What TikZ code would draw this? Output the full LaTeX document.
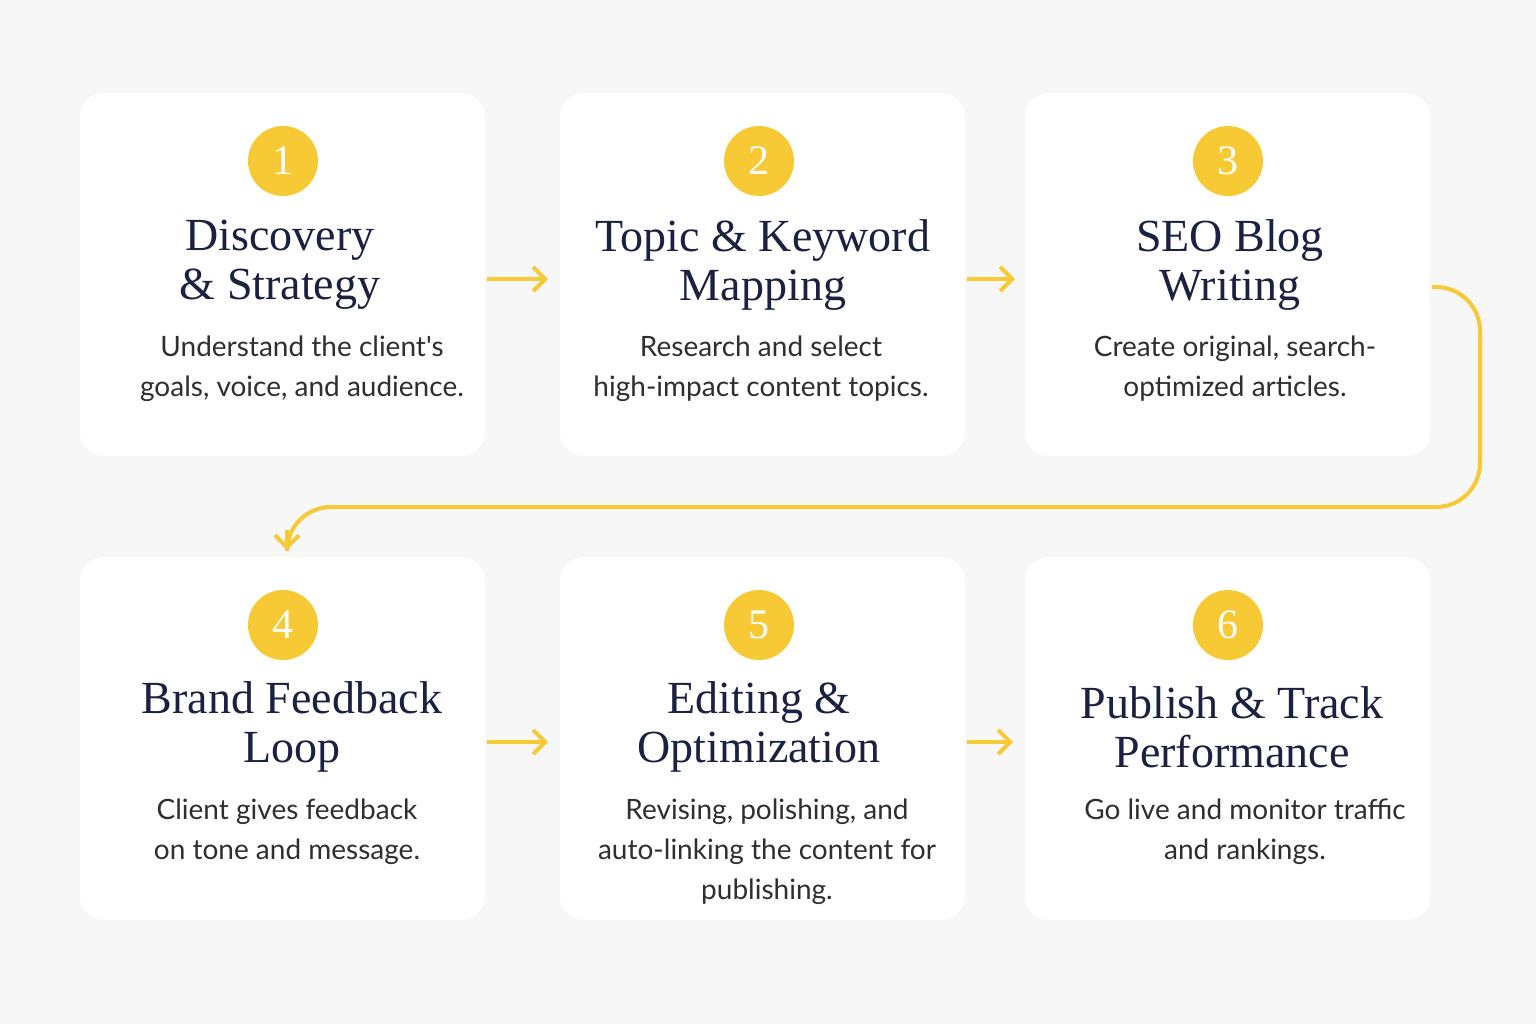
\documentclass[tikz,border=0pt]{standalone}
\usepackage{fontspec}
\setmainfont{Liberation Serif}
\newfontfamily\bodyfont{Lato}
\usetikzlibrary{arrows.meta}
\definecolor{bg}{HTML}{F7F7F7}
\definecolor{gold}{HTML}{F7C934}
\definecolor{navy}{HTML}{1B2140}
\definecolor{txt}{HTML}{2E2E33}
\begin{document}
\begin{tikzpicture}[x=0.5pt,y=-0.5pt,
 card/.style={fill=white,rounded corners=12pt},
 badge/.style={circle,fill=gold,minimum size=35pt,inner sep=0pt,text=white,font=\fontsize{21}{21}\selectfont},
 ttl/.style={align=center,text=navy,font=\fontsize{23}{24.5}\selectfont,inner sep=0pt},
 desc/.style={align=center,text=txt,font=\bodyfont\fontsize{14}{20}\selectfont,inner sep=0pt},
 line/.style={gold,line width=2pt},
 flow/.style={line,-{Straight Barb[length=6pt,width=12pt,line width=2pt]}}]
\fill[bg] (0,0) rectangle (1536,1024);
\useasboundingbox (0,0) rectangle (1536,1024);
% cards
\foreach \x/\y/\n in {80/93/c1,560/93/c2,1025/93/c3,80/557/c4,560/557/c5,1025/557/c6}{
  \path[card] (\x,\y) rectangle ++(405,363);
  \coordinate (\n) at (\x+202,\y);
}
\node[badge] (b1) at (283,161) {1};
\node[badge] (b2) at (759,161) {2};
\node[badge] (b3) at (1228,161) {3};
\node[badge] (b4) at (283,625) {4};
\node[badge] (b5) at (759,625) {5};
\node[badge] (b6) at (1228,625) {6};
\node[ttl] (t1) at (280,265) {Discovery\\\& Strategy};
\node[ttl] (t2) at (763,265) {Topic \& Keyword\\Mapping};
\node[ttl] (t3) at (1230,265) {SEO Blog\\Writing};
\node[ttl] (t4) at (292,727) {Brand Feedback\\Loop};
\node[ttl] (t5) at (759,727) {Editing \&\\Optimization};
\node[ttl] (t6) at (1232,727) {Publish \& Track\\Performance};
\node[desc] (d1) at (302,369) {Understand the client's\\goals, voice, and audience.};
\node[desc] (d2) at (761,369) {Research and select\\high-impact content topics.};
\node[desc] (d3) at (1235,369) {Create original, search-\\optimized articles.};
\node[desc] (d4) at (287,832) {Client gives feedback\\on tone and message.};
\node[desc] (d5) at (767,852) {Revising, polishing, and\\auto-linking the content for\\publishing.};
\node[desc] (d6) at (1245,832) {Go live and monitor traffic\\and rankings.};
% arrows
\coordinate (a1s) at (487,279); \coordinate (a1e) at (548,279);
\coordinate (a2s) at (967,279); \coordinate (a2e) at (1015,279);
\coordinate (a4s) at (487,742); \coordinate (a4e) at (548,742);
\coordinate (a5s) at (967,742); \coordinate (a5e) at (1013,742);
\draw[flow] (a1s) -- (a1e);
\draw[flow] (a2s) -- (a2e);
\draw[flow] (a4s) -- (a4e);
\draw[flow] (a5s) -- (a5e);
\coordinate (ls) at (1432,287);
\coordinate (lm) at (287,530);
\coordinate (le) at (287,550);
\draw[line,rounded corners=22pt] (ls) -- (1480,287) -- (1480,507) -- (287,507) -- (lm);
\draw[flow] (lm) -- (le);
\end{tikzpicture}
\end{document}
